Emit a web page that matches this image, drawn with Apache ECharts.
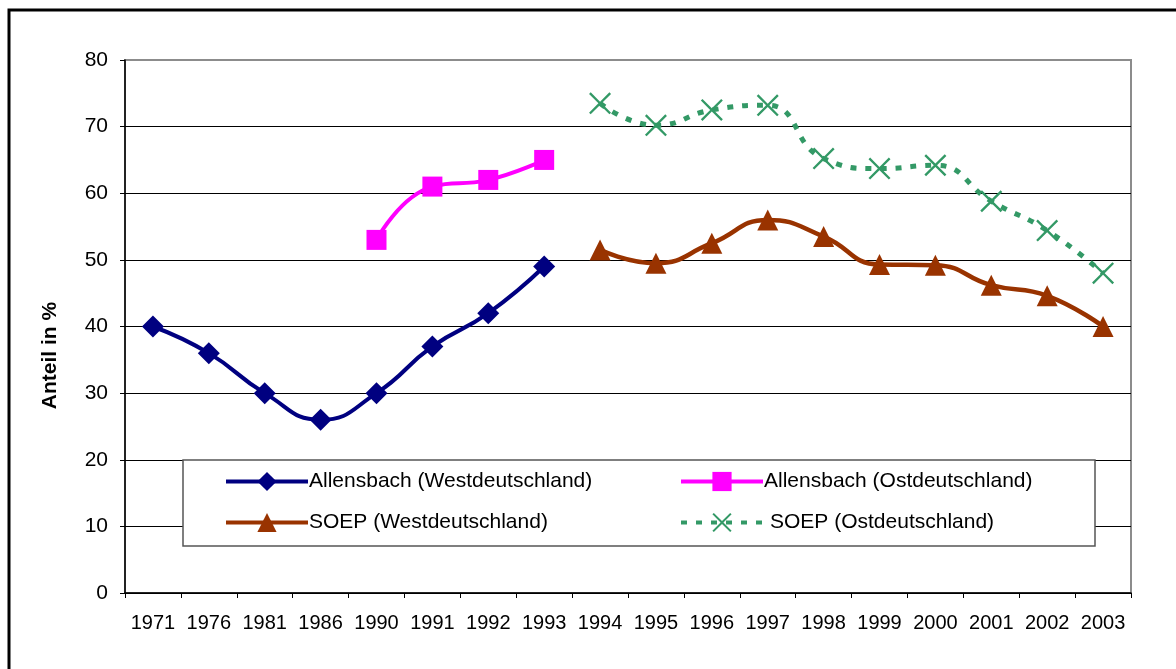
<!DOCTYPE html>
<html>
<head>
<meta charset="utf-8">
<script src="https://cdn.jsdelivr.net/npm/echarts@6/dist/echarts.min.js"></script>
<style>
  html, body { margin: 0; padding: 0; background: #fff; }
  #main { width: 1176px; height: 669px; }
</style>
</head>
<body>
<div id="main"></div>
<script>
const years = ['1971', '1976', '1981', '1986', '1990', '1991', '1992', '1993', '1994',
  '1995', '1996', '1997', '1998', '1999', '2000', '2001', '2002', '2003'];
const allensbachWest = [40, 36, 30, 26, 30, 37, 42, 49, null, null, null, null, null, null, null, null, null, null];
const allensbachOst = [null, null, null, null, 53, 61, 62, 65, null, null, null, null, null, null, null, null, null, null];
const soepWest = [null, null, null, null, null, null, null, null, 51.5, 49.5, 52.5, 56, 53.5, 49.3, 49.2, 46.2, 44.6, 40];
const soepOst = [null, null, null, null, null, null, null, null, 73.5, 70.2, 72.5, 73.2, 65.2, 63.7, 64.2, 58.8, 54.4, 48];
const yTicks = [0, 10, 20, 30, 40, 50, 60, 70, 80];

const font = 'Liberation Sans, Arial, sans-serif';
// X-Symbol als Polygon (Pfad-Symbole werden gefüllt)
const cross = 'path://M0,1.5 L1.5,0 L10,8.5 L18.5,0 L20,1.5 L11.5,10 L20,18.5 L18.5,20 L10,11.5 L1.5,20 L0,18.5 L8.5,10 Z';

var myChart = echarts.init(document.getElementById('main'));

function legendAt(left, top, name, textPad) {
    return {
        data: [name],
        left: left,
        top: top,
        orient: 'horizontal',
        itemWidth: 82,
        itemHeight: 24,
        itemGap: 0,
        padding: 0,
        lineStyle: { width: 4 },
        textStyle: { fontFamily: font, fontSize: 21, color: '#000', padding: [0, 0, 0, textPad] },
        selectedMode: false
    };
}

myChart.setOption({
    animation: false,
    backgroundColor: '#fff',
    grid: {
        left: 125, right: 45, top: 60, bottom: 76,
        show: true, borderColor: '#8c8c8c', borderWidth: 2, backgroundColor: 'transparent'
    },
    graphic: [
        {
            type: 'rect', z: 0,
            shape: { x: 9, y: 10, width: 1300, height: 800 },
            style: { fill: 'none', stroke: '#000', lineWidth: 3 }
        },
        {
            type: 'rect', z: 3,
            shape: { x: 183, y: 460, width: 912, height: 86 },
            style: { fill: '#fff', stroke: '#555', lineWidth: 1.5 }
        }
    ],
    legend: [
        legendAt(224, 471, 'Allensbach (Westdeutschland)', -4),
        legendAt(679, 471, 'Allensbach (Ostdeutschland)', -4),
        legendAt(224, 512, 'SOEP (Westdeutschland)', -4),
        legendAt(679, 512, 'SOEP (Ostdeutschland)', 2)
    ],
    xAxis: {
        type: 'category',
        data: years,
        boundaryGap: true,
        axisLine: { lineStyle: { color: '#000', width: 1.5 } },
        axisTick: { show: true, length: 5, lineStyle: { color: '#000' } },
        axisLabel: { fontFamily: font, fontSize: 20, color: '#000', margin: 20, interval: 0 },
        splitLine: { show: false }
    },
    yAxis: {
        type: 'value',
        min: 0, max: 80, interval: 10,
        name: 'Anteil in %',
        nameLocation: 'middle',
        nameGap: 64,
        nameTextStyle: { fontFamily: font, fontSize: 21, fontWeight: 'bold', color: '#000', padding: [0, 0, 0, -58] },
        axisLine: { show: true, lineStyle: { color: '#000', width: 1.5 } },
        axisTick: { show: true, length: 5, lineStyle: { color: '#000' } },
        axisLabel: {
            fontFamily: font, fontSize: 21, color: '#000', margin: 17,
            formatter: function (v) { return yTicks.indexOf(v) >= 0 ? String(v) : ''; }
        },
        splitLine: { show: true, showMaxLine: false, lineStyle: { color: '#000', width: 1 } }
    },
    series: [
        {
            name: 'Allensbach (Westdeutschland)',
            type: 'line', smooth: 0.5, data: allensbachWest,
            symbol: 'diamond', symbolSize: 22,
            itemStyle: { color: '#000080' },
            lineStyle: { color: '#000080', width: 4 }
        },
        {
            name: 'Allensbach (Ostdeutschland)',
            type: 'line', smooth: 0.5, data: allensbachOst,
            symbol: 'rect', symbolSize: 20,
            itemStyle: { color: '#FF00FF' },
            lineStyle: { color: '#FF00FF', width: 4 }
        },
        {
            name: 'SOEP (Westdeutschland)',
            type: 'line', smooth: 0.5, data: soepWest,
            symbol: 'triangle', symbolSize: 21,
            itemStyle: { color: '#993300' },
            lineStyle: { color: '#993300', width: 4.5 }
        },
        {
            name: 'SOEP (Ostdeutschland)',
            type: 'line', smooth: 0.5, data: soepOst,
            symbol: cross, symbolSize: 22,
            itemStyle: { color: '#339966' },
            lineStyle: { color: '#339966', width: 5, type: [6, 9] }
        }
    ]
});
</script>
</body>
</html>
